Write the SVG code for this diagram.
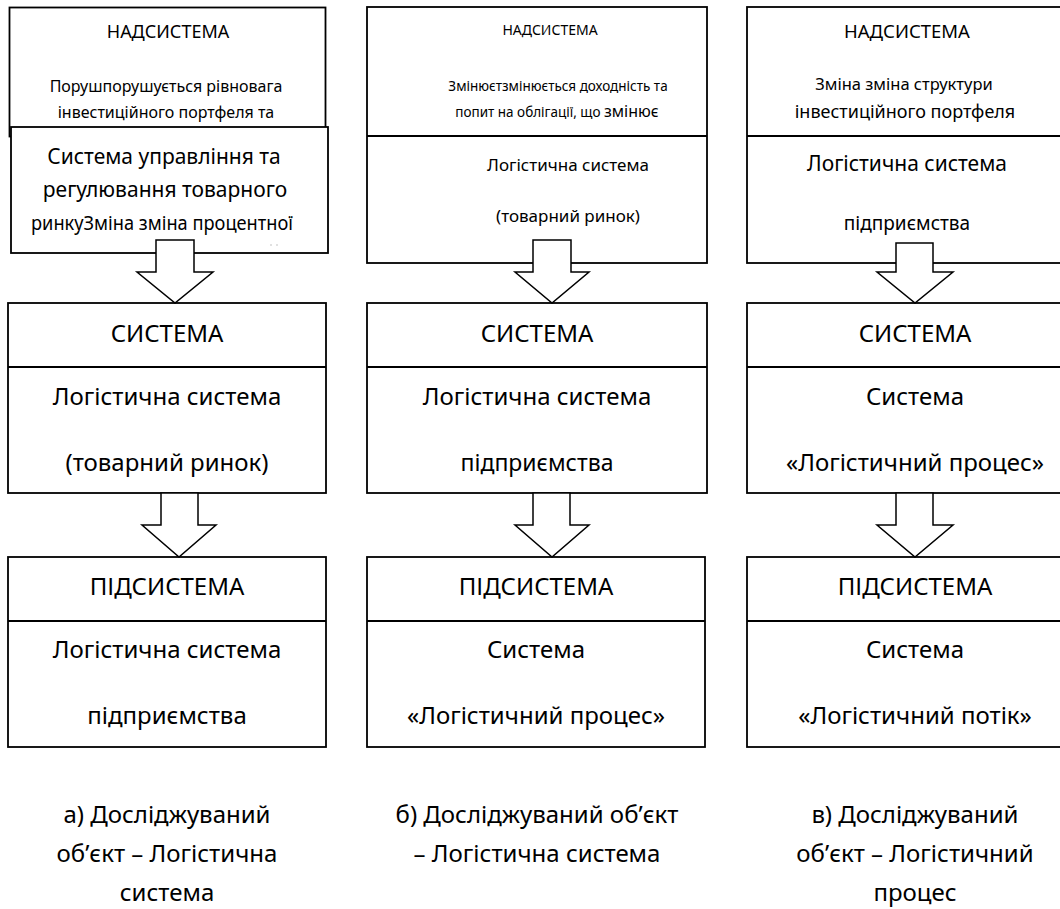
<svg xmlns="http://www.w3.org/2000/svg" width="1060" height="909" viewBox="0 0 1060 909">
<style>
.box{fill:#fff;stroke:#000;stroke-width:1.8}
.div{stroke:#000;stroke-width:1.8;fill:none}
.arr{fill:#fff;stroke:#000;stroke-width:1.5;stroke-linejoin:miter}
text{font-family:"Noto Sans","Open Sans","DejaVu Sans",sans-serif;fill:#000;text-anchor:middle}
.big{font-size:24px}
.cap{font-size:24px}
</style>
<rect width="1060" height="909" fill="#fff"/>

<!-- Panel A -->
<g id="a-nadsystema">
<rect class="box" x="9.5" y="7.5" width="316" height="129"/>
<text x="168" y="38" font-size="18">НАДСИСТЕМА</text>
<text x="166" y="92" font-size="16">Порушпорушується рівновага</text>
<text x="166" y="118" font-size="16">інвестиційного портфеля та</text>
</g>
<g id="a-upravlinnia">
<rect class="box" x="11" y="127" width="317" height="126"/>
<text x="164" y="164" font-size="21">Система управління та</text>
<text x="165" y="197" font-size="21">регулювання товарного</text>
<text x="162" y="230" font-size="20.5" textLength="262" lengthAdjust="spacingAndGlyphs">ринкуЗміна зміна процентної</text>
<circle cx="271" cy="245" r="0.8" fill="#bbb"/>
<circle cx="277" cy="245" r="0.8" fill="#bbb"/>
</g>
<g id="a-systema">
<rect class="box" x="8" y="303" width="318" height="190"/>
<line class="div" x1="8" y1="367" x2="326" y2="367"/>
<text class="big" x="167" y="342">СИСТЕМА</text>
<text class="big" x="167" y="405">Логістична система</text>
<text class="big" x="167" y="471">(товарний ринок)</text>
</g>
<g id="a-pidsystema">
<rect class="box" x="8" y="557" width="318" height="190"/>
<line class="div" x1="8" y1="621" x2="326" y2="621"/>
<text class="big" x="167" y="595">ПІДСИСТЕМА</text>
<text class="big" x="167" y="658">Логістична система</text>
<text class="big" x="167" y="724">підприємства</text>
</g>
<g id="a-caption">
<text class="cap" x="167" y="823">а) Досліджуваний</text>
<text class="cap" x="167" y="862">об’єкт – Логістична</text>
<text class="cap" x="167" y="901">система</text>
</g>

<!-- Panel B -->
<g id="b-nadsystema">
<rect class="box" x="367" y="7" width="340" height="256"/>
<line class="div" x1="367" y1="136" x2="707" y2="136"/>
<text x="550" y="35" font-size="14">НАДСИСТЕМА</text>
<text x="558" y="91" font-size="13.5">Змінюєтзмінюється доходність та</text>
<text x="557" y="117" font-size="13.5">попит на облігації, що <tspan font-size="16">змінює</tspan></text>
<text x="568" y="171" font-size="17">Логістична система</text>
<text x="568" y="222" font-size="17">(товарний ринок)</text>
</g>
<g id="b-systema">
<rect class="box" x="367" y="303" width="340" height="190"/>
<line class="div" x1="367" y1="367" x2="707" y2="367"/>
<text class="big" x="537" y="342">СИСТЕМА</text>
<text class="big" x="537" y="405">Логістична система</text>
<text x="537" y="471" font-size="23">підприємства</text>
</g>
<g id="b-pidsystema">
<rect class="box" x="367" y="557" width="338" height="190"/>
<line class="div" x1="367" y1="621" x2="705" y2="621"/>
<text class="big" x="536" y="595">ПІДСИСТЕМА</text>
<text class="big" x="536" y="658">Система</text>
<text class="big" x="536" y="724">«Логістичний процес»</text>
</g>
<g id="b-caption">
<text class="cap" x="537" y="823">б) Досліджуваний об’єкт</text>
<text class="cap" x="537" y="862">– Логістична система</text>
</g>

<!-- Panel C -->
<g id="c-nadsystema">
<rect class="box" x="747" y="7" width="336" height="256"/>
<line class="div" x1="747" y1="136" x2="1083" y2="136"/>
<text x="907" y="38" font-size="18.5">НАДСИСТЕМА</text>
<text x="904" y="90" font-size="16.5">Зміна  зміна структури</text>
<text x="905" y="118" font-size="18">інвестиційного портфеля</text>
<text x="907" y="171" font-size="21">Логістична система</text>
<text x="907" y="230" font-size="19">підприємства</text>
</g>
<g id="c-systema">
<rect class="box" x="747" y="303" width="336" height="190"/>
<line class="div" x1="747" y1="367" x2="1083" y2="367"/>
<text class="big" x="915" y="342">СИСТЕМА</text>
<text class="big" x="915" y="405">Система</text>
<text class="big" x="915" y="471">«Логістичний процес»</text>
</g>
<g id="c-pidsystema">
<rect class="box" x="747" y="557" width="336" height="190"/>
<line class="div" x1="747" y1="621" x2="1083" y2="621"/>
<text class="big" x="915" y="595">ПІДСИСТЕМА</text>
<text class="big" x="915" y="658">Система</text>
<text class="big" x="915" y="724">«Логістичний потік»</text>
</g>
<g id="c-caption">
<text class="cap" x="915" y="823">в) Досліджуваний</text>
<text class="cap" x="915" y="862">об’єкт – Логістичний</text>
<text class="cap" x="915" y="901">процес</text>
</g>

<!-- Connectors: hollow block arrows -->
<g id="connectors">
<polygon class="arr" points="156,240 194,240 194,272 213,272 175,303 137,272 156,272"/>
<polygon class="arr" points="161,493 198,493 198,525 216,525 179,557 142,525 161,525"/>
<polygon class="arr" points="533,240 571,240 571,272 589,272 552,303 515,272 533,272"/>
<polygon class="arr" points="533,493 570,493 570,525 589,525 552,557 515,525 533,525"/>
<polygon class="arr" points="896,243 933,243 933,272 953,272 915,303 877,272 896,272"/>
<polygon class="arr" points="896,493 933,493 933,525 953,525 915,557 877,525 896,525"/>
</g>
</svg>
